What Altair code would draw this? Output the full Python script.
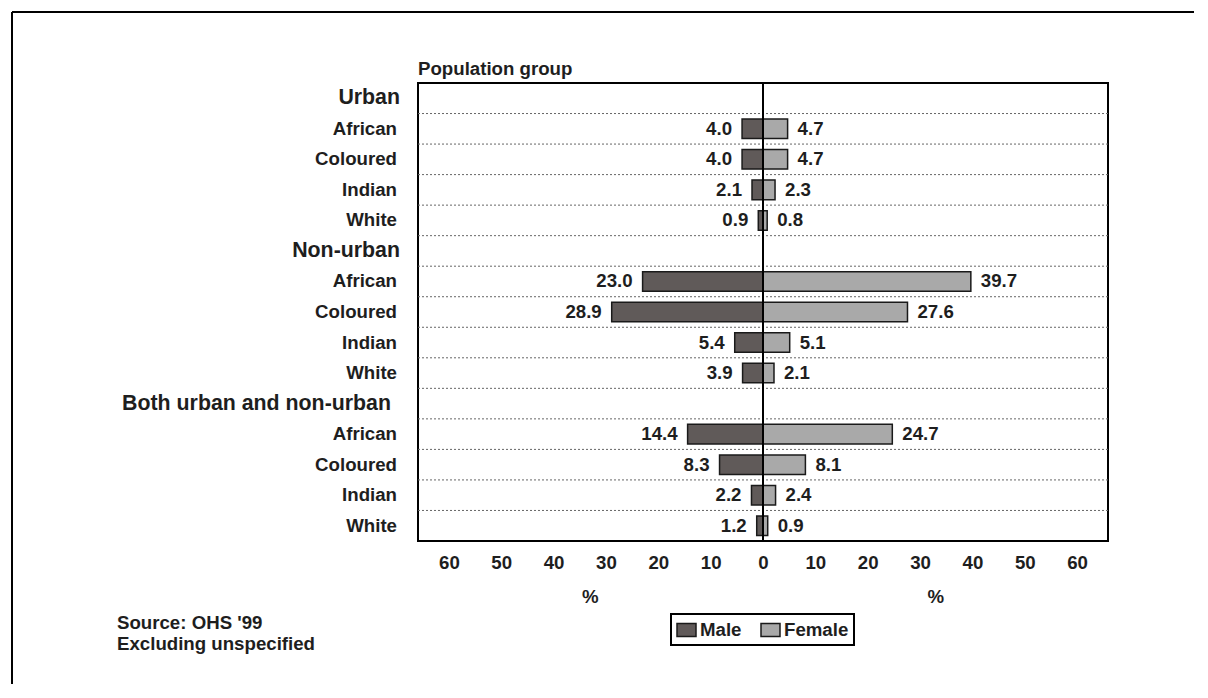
import altair as alt
import pandas as pd

# ---------------- data ----------------
groups = ["Urban", "Non-urban", "Both urban and non-urban"]
populations = ["African", "Coloured", "Indian", "White"]
male_pct = [[4.0, 4.0, 2.1, 0.9], [23.0, 28.9, 5.4, 3.9], [14.4, 8.3, 2.2, 1.2]]
female_pct = [[4.7, 4.7, 2.3, 0.8], [39.7, 27.6, 5.1, 2.1], [24.7, 8.1, 2.4, 0.9]]
sexes = ["Male", "Female"]
sex_colors = ["#605a59", "#a9a9a9"]
x_ticks = [-60, -50, -40, -30, -20, -10, 0, 10, 20, 30, 40, 50, 60]
axis_title = "%"
chart_title = "Population group"
source_lines = ["Source: OHS '99", "Excluding unspecified"]

row_order, label_rows, bar_rows = [], [], []
for gi, g in enumerate(groups):
    row_order.append(g)
    label_rows.append({"row": g, "label": g, "kind": "header" if gi < 2 else "header2"})
    for pi, p in enumerate(populations):
        key = f"{g} | {p}"
        row_order.append(key)
        label_rows.append({"row": key, "label": p, "kind": "sub"})
        bar_rows.append({"row": key, "sex": "Male", "value": male_pct[gi][pi], "signed": -male_pct[gi][pi]})
        bar_rows.append({"row": key, "sex": "Female", "value": female_pct[gi][pi], "signed": female_pct[gi][pi]})

bars_df = pd.DataFrame(bar_rows)
labels_df = pd.DataFrame(label_rows)
grid_df = pd.DataFrame({"row": row_order[1:]})
one = pd.DataFrame({"a": [0]})

FONT = "Liberation Sans"
TXT = "#1e1e1e"
FS = 18.67
W, H = 690, 458

xscale = alt.Scale(domain=[-65.9, 65.9], nice=False, zero=False)
yscale = alt.Scale(domain=row_order, paddingInner=0, paddingOuter=0)

xaxis = alt.Axis(values=x_ticks, labelExpr="abs(datum.value)", ticks=False, domain=False,
                 grid=False, labelPadding=21, labelFontSize=FS, labelFontWeight="bold",
                 labelColor=TXT, labelFont=FONT, title=None, labelBaseline="middle",
                 labelOverlap=False, labelFlush=False)

grid = alt.Chart(grid_df).mark_rule(strokeDash=[2, 2], color="#666666", strokeWidth=1).encode(
    y=alt.Y("row:N", bandPosition=0, scale=yscale, axis=None)
)

bars = alt.Chart(bars_df).mark_bar(
    height=alt.RelativeBandSize(0.64), stroke="#1a1a1a", strokeWidth=1.5
).encode(
    x=alt.X("signed:Q", scale=xscale, axis=xaxis, stack=None),
    y=alt.Y("row:N", scale=yscale, axis=None),
    color=alt.Color(
        "sex:N",
        scale=alt.Scale(domain=sexes, range=sex_colors),
        legend=alt.Legend(
            orient="none", legendX=253, legendY=531, direction="horizontal", title=None,
            symbolType="M-1,-0.684L1,-0.684L1,0.684L-1,0.684Z", symbolSize=361,
            symbolStrokeColor="#1a1a1a", symbolStrokeWidth=1.5, symbolOpacity=1,
            labelFontSize=FS, labelFontWeight="bold", labelColor=TXT, labelFont=FONT,
            labelOffset=3, columnPadding=16, padding=5, strokeColor="black", fillColor="white",
        ),
    ),
)

zero_line = alt.Chart(one).mark_rule(color="black", strokeWidth=2).encode(x=alt.datum(0))


def value_labels(sex, align, dx):
    return alt.Chart(bars_df).transform_filter(alt.datum.sex == sex).mark_text(
        align=align, baseline="middle", dx=dx, fontSize=FS, fontWeight="bold", color=TXT, font=FONT
    ).encode(
        x=alt.X("signed:Q", scale=xscale),
        y=alt.Y("row:N", scale=yscale, axis=None),
        text=alt.Text("value:Q", format=".1f"),
    )


male_lbl = value_labels("Male", "right", -10)
female_lbl = value_labels("Female", "left", 10)


def row_labels(kind, size, xpos):
    return alt.Chart(labels_df).transform_filter(alt.datum.kind == kind).mark_text(
        align="right", baseline="middle", fontSize=size, fontWeight="bold", color=TXT, font=FONT
    ).encode(y=alt.Y("row:N", scale=yscale, axis=None), x=alt.value(xpos), text="label:N")


sub_lbl = row_labels("sub", FS, -21)
head_lbl = row_labels("header", 21.33, -18)
head2_lbl = row_labels("header2", 21.33, -27)

title_txt = alt.Chart(one).mark_text(
    align="left", baseline="middle", fontSize=FS, fontWeight="bold", color=TXT, font=FONT, text=chart_title
).encode(x=alt.value(0), y=alt.value(-14))

pct_left = alt.Chart(one).mark_text(
    align="center", baseline="middle", fontSize=FS, fontWeight="bold", color=TXT, font=FONT, text=axis_title
).encode(x=alt.datum(-33), y=alt.value(514))
pct_right = alt.Chart(one).mark_text(
    align="center", baseline="middle", fontSize=FS, fontWeight="bold", color=TXT, font=FONT, text=axis_title
).encode(x=alt.datum(33), y=alt.value(514))

source_txt = alt.Chart(one).mark_text(
    align="left", baseline="alphabetic", fontSize=FS, fontWeight="bold", color=TXT, font=FONT,
    lineHeight=21, text=source_lines
).encode(x=alt.value(-301), y=alt.value(546))

border_top = alt.Chart(one).mark_rule(color="black", strokeWidth=2).encode(
    x=alt.value(-406), x2=alt.value(800), y=alt.value(-71)
)
border_left = alt.Chart(one).mark_rule(color="black", strokeWidth=2).encode(
    x=alt.value(-406), y=alt.value(-71), y2=alt.value(640)
)

chart = alt.layer(
    grid, bars, zero_line, male_lbl, female_lbl, sub_lbl, head_lbl, head2_lbl,
    title_txt, pct_left, pct_right, source_txt, border_top, border_left
).properties(
    width=W, height=H,
    padding={"left": 410, "top": 75, "right": 86, "bottom": 143},
    autosize=alt.AutoSizeParams(type="none"),
).configure_view(
    stroke="black", strokeWidth=2
).configure_legend(
    strokeWidth=2
)

chart.save("out.html", embed_options={"renderer": "svg", "actions": False})
